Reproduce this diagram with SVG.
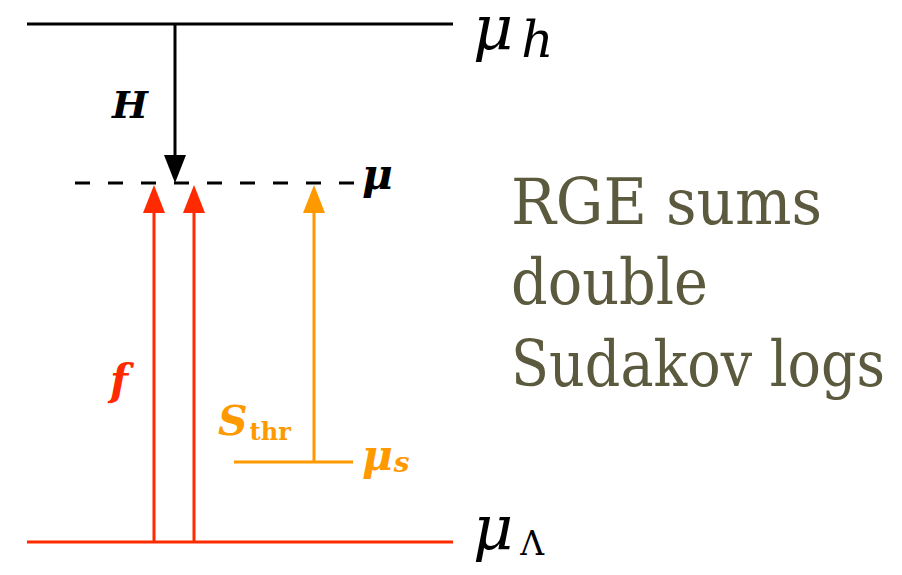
<svg xmlns="http://www.w3.org/2000/svg" width="902" height="575" viewBox="0 0 902 575">
<defs>
<style>
.red{stroke:#ff2a00;stroke-width:3;fill:none}
.org{stroke:#ff9900;stroke-width:3;fill:none}
.blk{stroke:#000;stroke-width:3;fill:none}
text{font-family:"DejaVu Serif","Liberation Serif",serif}
.it{font-style:italic}
.bi{font-style:italic;font-weight:bold}
</style>
</defs>
<rect width="902" height="575" fill="#fff"/>
<g id="level-h">
<line x1="27" y1="24" x2="453" y2="24" class="blk"/>
<text x="473" y="49" class="it" font-size="62">μ<tspan font-size="50" dy="8" dx="8">h</tspan></text>
</g>
<g id="level-mu">
<line x1="75" y1="183" x2="355" y2="183" stroke="#000" stroke-width="3" stroke-dasharray="15 18"/>
<text x="362" y="189" class="bi" font-size="42">μ</text>
</g>
<g id="level-lambda">
<line x1="27" y1="542" x2="453" y2="542" class="red"/>
<text x="473" y="549" class="it" font-size="62">μ<tspan font-style="normal" font-size="33" dy="6" dx="7">Λ</tspan></text>
</g>
<g id="level-s">
<line x1="234" y1="462" x2="353" y2="462" class="org"/>
<text x="362" y="470" class="bi" font-size="42" fill="#ff9900">μ<tspan font-size="28" dy="2" dx="1">s</tspan></text>
</g>
<g id="connectors">
<line x1="175" y1="24" x2="175" y2="157" class="blk"/>
<polygon points="164,155 186,155 175,183" fill="#000"/>
<line x1="154" y1="542" x2="154" y2="210" class="red"/>
<polygon points="143,213 165,213 154,185" fill="#ff2a00"/>
<line x1="194" y1="542" x2="194" y2="210" class="red"/>
<polygon points="183,213 205,213 194,185" fill="#ff2a00"/>
<line x1="314" y1="462" x2="314" y2="210" class="org"/>
<polygon points="303,213 325,213 314,185" fill="#ff9900"/>
</g>
<g id="labels">
<text x="112" y="118" class="bi" font-size="38">H</text>
<text x="110" y="395" class="bi" font-size="42" fill="#ff2a00">f</text>
<text x="218" y="435" class="bi" font-size="41" fill="#ff9900">S<tspan font-style="normal" font-weight="bold" font-size="24" dy="5" dx="2">thr</tspan></text>
</g>
<g id="note" font-size="64" fill="#5b5a3e">
<text x="511" y="224" textLength="311" lengthAdjust="spacingAndGlyphs">RGE sums</text>
<text x="511" y="304" textLength="197" lengthAdjust="spacingAndGlyphs">double</text>
<text x="511" y="386" textLength="374" lengthAdjust="spacingAndGlyphs">Sudakov logs</text>
</g>
</svg>
